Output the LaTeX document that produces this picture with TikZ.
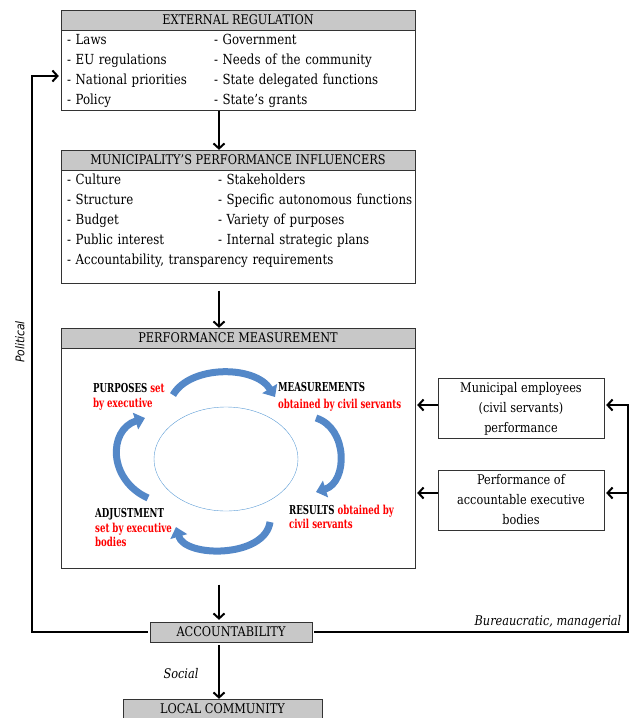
\documentclass[tikz,border=0pt]{standalone}
\usepackage{fontspec}
\setmainfont[FakeStretch=0.85]{DejaVu Serif}
\newfontfamily\politicalfont[FakeStretch=0.9]{DejaVu Sans}
\newfontfamily\stagefamily[FakeStretch=0.7]{DejaVu Serif}
\usepackage{array}
\usetikzlibrary{arrows.meta, calc, positioning, shapes.geometric}
\definecolor{cycleblue}{RGB}{84,136,200}
\definecolor{ringblue}{RGB}{91,155,213}
\definecolor{headgray}{RGB}{200,200,200}
\newcommand{\boxfont}{\fontsize{13.3}{20}\selectfont}
\newcommand{\listfont}{\fontsize{13.9}{20}\selectfont}
\newcommand{\stagefont}{\stagefamily\fontsize{12.3}{14.5}\selectfont\bfseries}

\begin{document}
\begin{tikzpicture}
        [x=1pt, y=-1pt,
         headsty/.style={rectangle,
                         inner sep=0pt,
                         minimum width=354pt,
                         minimum height=20pt,
                         draw=black!80,
                         fill=headgray,
                         font=\boxfont},
         liststy/.style={rectangle,
                         inner xsep=6pt,
                         inner ysep=0pt,
                         text width=342pt,
                         align=left,
                         draw=black!80,
                         font=\listfont},
         sidesty/.style={rectangle,
                         inner sep=0pt,
                         minimum width=166pt,
                         minimum height=60pt,
                         align=center,
                         draw=black!80,
                         font=\boxfont},
         stagesty/.style={inner sep=0pt, anchor=west, align=left, font=\stagefont},
         labsty/.style={inner sep=0pt, font=\boxfont\itshape},
         post/.style={-{Straight Barb[length=5pt, width=11pt]}, line width=2pt},
         cyclesty/.style={-{Triangle[length=10pt, width=17pt]}, line width=7pt, draw=cycleblue}]

        \useasboundingbox (0, 0) rectangle (633, 718);
        \coordinate (spine) at (219, 0);
        \coordinate (pol top) at (32, 76);
        \coordinate (bur top) at (628, 405);
        \coordinate (bur mid) at (628, 493);

        \node[headsty] (ext head) at (238, 20) {EXTERNAL REGULATION};
        \node[liststy, below=0pt of ext head] (ext list)
                {\begin{tabular}{@{}p{147pt}@{}l@{}}
                 - Laws & - Government\\
                 - EU regulations & - Needs of the community\\
                 - National priorities & - State delegated functions\\
                 - Policy & - State's grants
                 \end{tabular}};

        \node[headsty] (muni head) at (238, 160) {MUNICIPALITY'S PERFORMANCE INFLUENCERS};
        \node[liststy, below=0pt of muni head] (muni list)
                {\begin{tabular}{@{}p{151pt}@{}l@{}}
                 - Culture & - Stakeholders\\
                 - Structure & - Specific autonomous functions\\
                 - Budget & - Variety of purposes\\
                 - Public interest & - Internal strategic plans\\
                 \multicolumn{2}{@{}l@{}}{- Accountability, transparency requirements}\\[13pt]
                 \end{tabular}};

        \node[headsty] (pm head) at (238, 338) {PERFORMANCE MEASUREMENT};
        \node[liststy, below=0pt of pm head, minimum height=220pt] (pm body) {};

        \node[ellipse, draw=ringblue, inner sep=0pt, minimum width=144pt, minimum height=104pt] (ring) at (226, 459) {};
        \draw[cyclesty] (173, 395) .. controls (190, 365) and (255, 365) .. (275, 397);
        \draw[cyclesty] (316, 418) .. controls (348, 428) and (348, 482) .. (316, 492);
        \draw[cyclesty] (270, 522) .. controls (265, 558) and (185, 558) .. (176, 527);
        \draw[cyclesty] (148, 498) .. controls (108, 480) and (108, 430) .. (145, 418);

        \node[stagesty] (purposes) at (93, 397) {PURPOSES \textcolor{red}{set}\\\textcolor{red}{by executive}};
        \node[stagesty] (measurements) at (278, 397) {MEASUREMENTS\\[3pt]\textcolor{red}{obtained by civil servants}};
        \node[stagesty] (results) at (289, 517) {RESULTS \textcolor{red}{obtained by}\\\textcolor{red}{civil servants}};
        \node[stagesty] (adjustment) at (95, 528) {ADJUSTMENT\\\textcolor{red}{set by executive}\\\textcolor{red}{bodies}};

        \node[sidesty] (emp box) at (521, 408.5) {Municipal employees\\(civil servants)\\performance};
        \node[sidesty] (exec box) at (521, 500) {Performance of\\accountable executive\\bodies};

        \node[headsty, minimum width=162pt] (acc box) at (231, 632) {ACCOUNTABILITY};
        \node[headsty, minimum width=199pt] (local box) at (222.5, 709) {LOCAL COMMUNITY};

        \draw[post] (ext list.south -| spine) -- (muni head.north -| spine);
        \draw[post, shorten <=7pt] (muni list.south -| spine) -- (pm head.north -| spine);
        \draw[post, shorten <=16pt, shorten >=2pt] (pm body.south -| spine) -- (acc box.north -| spine);
        \draw[post, shorten <=3pt] (acc box.south -| spine) -- (local box.north -| spine);

        \draw[post, shorten <=2pt, shorten >=2pt] (acc box.west) -| (pol top) -- (pol top -| ext list.west);
        \draw[post, shorten <=2pt, shorten >=2pt] (acc box.east) -| (bur top) -- (bur top -| emp box.east);
        \draw[post, shorten >=2pt] (bur mid) -- (bur mid -| exec box.east);
        \draw[post, shorten >=2pt] (emp box.west |- bur top) -- (pm body.east |- bur top);
        \draw[post, shorten >=2pt] (exec box.west |- bur mid) -- (pm body.east |- bur mid);

        \node[labsty] (bur label) at (548, 622) {Bureaucratic, managerial};
        \node[labsty] (social label) at (181, 674) {Social};
        \node[labsty, rotate=90, font=\politicalfont\fontsize{12}{14}\selectfont\itshape] (pol label) at (20, 342) {Political};
\end{tikzpicture}
\end{document}
